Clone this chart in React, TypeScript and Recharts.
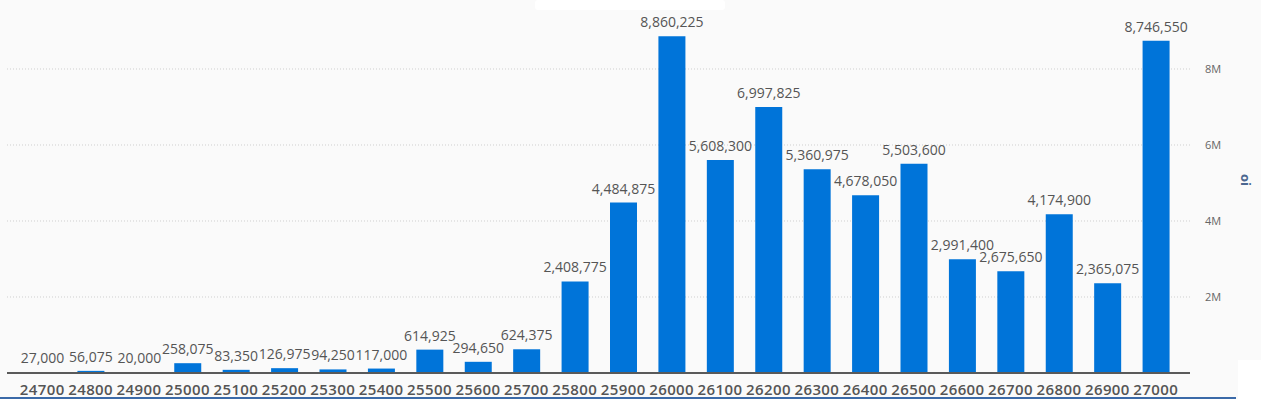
import { BarChart, Bar, XAxis, YAxis, CartesianGrid, LabelList } from 'recharts';

const strikes = [
  '24700', '24800', '24900', '25000', '25100', '25200', '25300', '25400',
  '25500', '25600', '25700', '25800', '25900', '26000', '26100', '26200',
  '26300', '26400', '26500', '26600', '26700', '26800', '26900', '27000',
];

const openInterest = [
  27000, 56075, 20000, 258075, 83350, 126975, 94250, 117000,
  614925, 294650, 624375, 2408775, 4484875, 8860225, 5608300, 6997825,
  5360975, 4678050, 5503600, 2991400, 2675650, 4174900, 2365075, 8746550,
];

const yTicks = [2000000, 4000000, 6000000, 8000000];

const data = strikes.map((strike, i) => ({ strike, oi: openInterest[i] }));

const font = '"Open Sans", sans-serif';

function AxisTitle(props: any) {
  const { viewBox } = props;
  const x = viewBox.x + 54;
  const y = 180;
  return (
    <text
      x={x}
      y={y}
      transform={`rotate(90, ${x}, ${y})`}
      textAnchor="middle"
      dominantBaseline="middle"
      fontSize={13}
      fontWeight="bold"
      fill="#4a6790"
      fontFamily={font}
    >
      oi
    </text>
  );
}

export default function App() {
  return (
    <div style={{ position: 'absolute', left: 0, top: 0, width: 1261, height: 399, background: '#fafafa', overflow: 'hidden' }}>
      <div style={{ position: 'absolute', left: 535, top: 0, width: 190, height: 10, background: '#fff', borderRadius: 3 }} />
      <div style={{ position: 'absolute', left: 1238, top: 360, width: 23, height: 39, background: '#fff' }} />
      <div style={{ position: 'absolute', left: 0, top: 397, width: 1236, height: 2, background: '#3b6aa8' }} />
      <BarChart
        width={1261}
        height={399}
        data={data}
        margin={{ top: 31, right: 0, bottom: 0, left: 7 }}
        style={{ position: 'absolute', left: 0, top: 0 }}
      >
        <CartesianGrid vertical={false} horizontalValues={yTicks} stroke="#cfcfcf" strokeDasharray="1 2" />
        <XAxis
          dataKey="strike"
          interval={0}
          height={26}
          padding={{ left: 11, right: 10 }}
          tickLine={false}
          tickSize={10}
          tickMargin={1}
          axisLine={{ stroke: '#5a5a5a', strokeWidth: 2 }}
          tick={{ fontSize: 15, fontWeight: 600, fill: '#555', fontFamily: font, letterSpacing: 0.4 }}
        />
        <YAxis
          orientation="right"
          width={71}
          domain={[0, 9000000]}
          ticks={yTicks}
          tickFormatter={(v) => `${v / 1000000}M`}
          axisLine={false}
          tickLine={false}
          tickSize={13}
          tickMargin={2}
          tick={{ fontSize: 11, fill: '#666', fontFamily: font }}
          label={<AxisTitle />}
        />
        <Bar dataKey="oi" fill="#0074d9" barSize={27} isAnimationActive={false}>
          <LabelList
            dataKey="oi"
            position="top"
            offset={9}
            formatter={(v: any) => Number(v).toLocaleString('en-US')}
            style={{ fontSize: 14, fill: '#555', fontFamily: font }}
          />
        </Bar>
      </BarChart>
    </div>
  );
}
